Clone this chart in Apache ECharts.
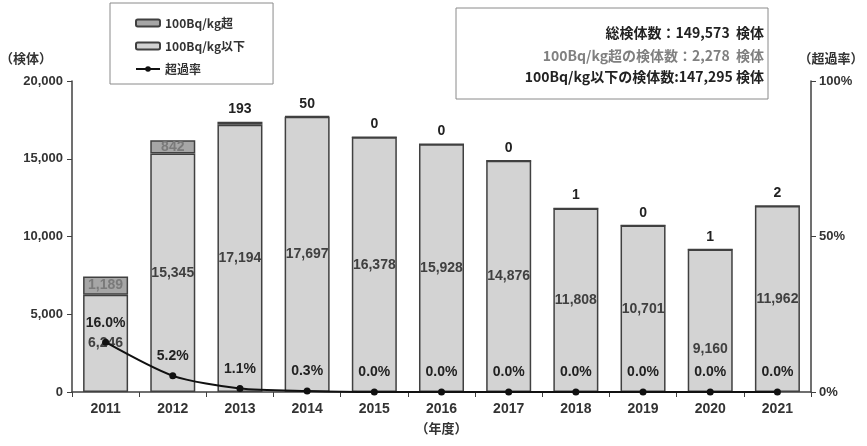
<!DOCTYPE html>
<html><head><meta charset="utf-8">
<script src="https://cdn.jsdelivr.net/npm/echarts@6/dist/echarts.min.js"></script>
<style>html,body{margin:0;padding:0;background:#fff}#c{width:867px;height:446px}</style>
</head><body><div id="c"></div>
<script>
const years = ['2011','2012','2013','2014','2015','2016','2017','2018','2019','2020','2021'];
const below = [6246,15345,17194,17697,16378,15928,14876,11808,10701,9160,11962];
const over = [1189,842,193,50,0,0,0,1,0,1,2];
const rate = [16.0,5.2,1.1,0.3,0.0,0.0,0.0,0.0,0.0,0.0,0.0];
const seriesNames = ['100Bq/kg超','100Bq/kg以下','超過率'];
const statLines = ['総検体数：149,573  検体','100Bq/kg超の検体数：2,278  検体','100Bq/kg以下の検体数:147,295 検体'];

const FONT = '"Liberation Sans","Noto Sans CJK JP",sans-serif';
const CJK = '"Noto Sans CJK JP",sans-serif';
const fmt = v => v.toLocaleString('en-US');

const chart = echarts.init(document.getElementById('c'));
chart.setOption({
  animation:false,
  textStyle:{fontFamily:FONT},
  grid:{left:72,right:56,top:81,bottom:54,containLabel:false,outerBoundsMode:'none'},
  legend:{
    orient:'vertical', left:110, top:3, width:162,
    data:[seriesNames[0],seriesNames[1],seriesNames[2]],
    borderColor:'#8a8a8a', borderWidth:1, padding:[14,28,9,25],
    itemGap:11, itemWidth:24, itemHeight:7,
    textStyle:{fontFamily:CJK,fontSize:12,fontWeight:'bold',color:'#333'}
  },
  xAxis:{
    type:'category', data:years,
    axisLine:{lineStyle:{color:'#404040',width:1.5}},
    axisTick:{show:true,length:5,lineStyle:{color:'#404040'}},
    axisLabel:{fontSize:14,fontWeight:'bold',color:'#333',margin:10},
    name:'（年度）', nameLocation:'middle', nameGap:30,
    nameTextStyle:{fontFamily:CJK,fontSize:13,fontWeight:'bold',color:'#333'}
  },
  yAxis:[{
    type:'value', min:0, max:20000, interval:5000,
    splitLine:{show:false},
    axisLine:{show:true,lineStyle:{color:'#404040',width:1.5}},
    axisTick:{show:true,length:5,lineStyle:{color:'#404040'}},
    axisLabel:{fontSize:13,fontWeight:'bold',color:'#333',margin:9,formatter:v=>fmt(v)},
    name:'（検体）', nameGap:16,
    nameTextStyle:{fontFamily:CJK,fontSize:13,fontWeight:'bold',color:'#333',align:'right',padding:[0,20,0,0]}
  },{
    type:'value', min:0, max:100, interval:50,
    splitLine:{show:false},
    axisLine:{show:true,lineStyle:{color:'#404040',width:1.5}},
    axisTick:{show:true,length:5,lineStyle:{color:'#404040'}},
    axisLabel:{fontSize:13,fontWeight:'bold',color:'#333',formatter:'{value}%'},
    name:'（超過率）', nameGap:16,
    nameTextStyle:{fontFamily:CJK,fontSize:13,fontWeight:'bold',color:'#333',align:'center',padding:[0,0,0,40]}
  }],
  series:[{
    name:seriesNames[1], type:'bar', stack:'s', barCategoryGap:'33%',
    itemStyle:{color:'#d3d3d3',borderColor:'#404040',borderWidth:1.5},
    label:{show:true,position:'inside',fontSize:14,fontWeight:'bold',color:'#404040',formatter:p=>fmt(p.value)},
    data:below.map((v,i)=> i===9 ? {value:v,label:{offset:[0,28]}} : v)
  },{
    name:seriesNames[0], type:'bar', stack:'s',
    itemStyle:{color:'#a6a6a6',borderColor:'#404040',borderWidth:1.5},
    label:{show:true,position:'top',fontSize:14,fontWeight:'bold',color:'#222',formatter:p=>fmt(p.value)},
    data:over.map(v=> v>500 ? {value:v,label:{position:'inside',color:'#7a7a7a'}} : v)
  },{
    name:seriesNames[2], type:'line', yAxisIndex:1, smooth:0.25,
    symbol:'circle', symbolSize:7,
    lineStyle:{color:'#111',width:2}, itemStyle:{color:'#111'},
    label:{show:true,position:'top',distance:9,fontSize:14,fontWeight:'bold',color:'#222',formatter:p=>p.value.toFixed(1)+'%'},
    data:rate, z:5
  }],
  graphic:[
    {type:'rect',shape:{x:456,y:8,width:312,height:91},style:{fill:'#fff',stroke:'#8a8a8a',lineWidth:1}},
    {type:'text',x:764,y:33,style:{text:statLines[0],align:'right',verticalAlign:'middle',font:'bold 14px '+CJK,fill:'#222'}},
    {type:'text',x:764,y:56,style:{text:statLines[1],align:'right',verticalAlign:'middle',font:'bold 14px '+CJK,fill:'#808080'}},
    {type:'text',x:764,y:77,style:{text:statLines[2],align:'right',verticalAlign:'middle',font:'bold 14px '+CJK,fill:'#222'}}
  ]
});
</script></body></html>
